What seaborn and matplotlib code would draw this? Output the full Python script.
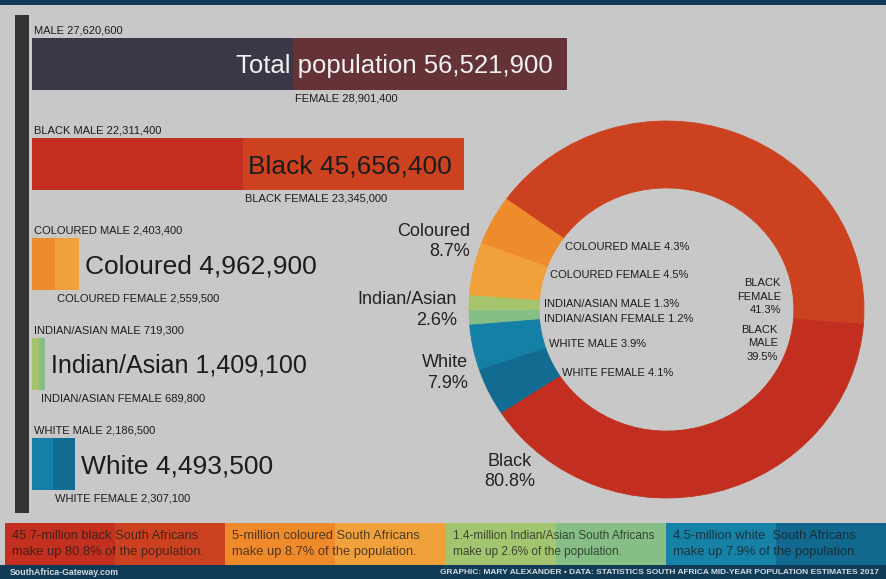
import matplotlib
matplotlib.use("Agg")
import matplotlib.pyplot as plt
from matplotlib.patches import Rectangle
import pandas as pd
import seaborn as sns

# ---- data -------------------------------------------------------------
groups = ["Total population", "Black", "Coloured", "Indian/Asian", "White"]
group_caps = ["", "BLACK ", "COLOURED ", "INDIAN/ASIAN ", "WHITE "]
totals = [56521900, 45656400, 4962900, 1409100, 4493500]
males = [27620600, 22311400, 2403400, 719300, 2186500]
females = [28901400, 23345000, 2559500, 689800, 2307100]

ring_labels = ["BLACK FEMALE", "COLOURED MALE", "COLOURED FEMALE",
               "INDIAN/ASIAN MALE", "INDIAN/ASIAN FEMALE",
               "WHITE MALE", "WHITE FEMALE", "BLACK MALE"]
ring_values = [23345000, 2403400, 2559500, 719300, 689800,
               2186500, 2307100, 22311400]

share_names = ["Black", "Coloured", "Indian/Asian", "White"]
share_pcts = ["80.8%", "8.7%", "2.6%", "7.9%"]

banner_lines = [
    ("45.7-million black South Africans", "make up 80.8% of the population."),
    ("5-million coloured South Africans", "make up 8.7% of the population."),
    ("1.4-million Indian/Asian South Africans", "make up 2.6% of the population."),
    ("4.5-million white  South Africans", "make up 7.9% of the population."),
]
site_note = "SouthAfrica-Gateway.com"
credit_note = ("GRAPHIC: MARY ALEXANDER \u2022 DATA: STATISTICS SOUTH AFRICA "
               "MID-YEAR POPULATION ESTIMATES 2017")

# ---- styles -----------------------------------------------------------
BG = "#c8c8c8"
NAVY = "#0f3b57"
INK = "#1c1c1c"
male_cols = ["#3a3846", "#c22e1f", "#ee8b2b", "#a6c46c", "#1580a6"]
female_cols = ["#653336", "#cc4120", "#f1a13a", "#86bf86", "#126c91"]
ring_cols = ["#cc4120", "#ee8b2b", "#f1a13a", "#a6c46c", "#86bf86",
             "#1580a6", "#126c91", "#c22e1f"]
banner_cols = [("#c3301f", "#cc4221"), ("#ef8a2b", "#f1a13b"),
               ("#a3c56f", "#86bf86"), ("#1782a7", "#11698f")]
banner_sizes = [9.3, 9.3, 8.5, 9.3]
big_sizes = [18.5, 19, 19, 18, 19]

sns.set_theme(style="white")
plt.rcParams["font.family"] = ["Liberation Sans", "DejaVu Sans"]

W, H = 886, 579
DPI = 100
fig = plt.figure(figsize=(W / DPI, H / DPI), dpi=DPI, facecolor=BG)


def frame(x0, y0, x1, y1):
    """Figure rectangle from pixel box (top-left origin)."""
    return [x0 / W, 1 - y1 / H, (x1 - x0) / W, (y1 - y0) / H]


# backdrop canvas in pixel units
bg = fig.add_axes([0, 0, 1, 1], zorder=0)
bg.set_xlim(0, W)
bg.set_ylim(H, 0)
bg.axis("off")
bg.add_patch(Rectangle((0, 0), W, 5, color=NAVY, lw=0))
bg.add_patch(Rectangle((15, 15), 14, 498, color="#333333", lw=0))

# ---- stacked population bars -----------------------------------------
df = pd.DataFrame({"group": groups, "total": totals, "male": males,
                   "female": females})
ax = fig.add_axes(frame(32, 14, 567, 514), zorder=1)
sns.barplot(data=df, x="total", y="group", hue="group", palette=female_cols,
            orient="h", width=0.52, saturation=1, errorbar=None,
            legend=False, linewidth=0, ax=ax)
sns.barplot(data=df, x="male", y="group", hue="group", palette=male_cols,
            orient="h", width=0.52, saturation=1, errorbar=None,
            legend=False, linewidth=0, ax=ax)
ax.set_xlim(0, totals[0])
ax.set_ylim(len(groups) - 0.5, -0.5)
ax.axis("off")

half = 0.26
px_per_pt = DPI / 72
for i, (cap, t, m, f) in enumerate(zip(group_caps, totals, males, females)):
    ax.annotate(f"{cap}MALE {m:,}", (0, i - half), xytext=(2, 7.5),
                textcoords="offset pixels", ha="left", va="center",
                fontsize=8, color=INK)
    ax.annotate(f"{cap}FEMALE {f:,}", (m, i + half), xytext=(2, -8.5),
                textcoords="offset pixels", ha="left", va="center",
                fontsize=8, color=INK)
    size = big_sizes[i]
    drop = -0.36 * size * px_per_pt
    text = f"{groups[i]} {t:,}"
    if i == 0:
        ax.annotate(text, (t, i), xytext=(-14, drop), textcoords="offset pixels",
                    ha="right", va="baseline", fontsize=size, color="#f2f2f2")
    elif i == 1:
        ax.annotate(text, (m, i), xytext=(5, drop), textcoords="offset pixels",
                    ha="left", va="baseline", fontsize=size, color=INK)
    else:
        ax.annotate(text, (t, i), xytext=(6, drop), textcoords="offset pixels",
                    ha="left", va="baseline", fontsize=size, color=INK)

# ---- donut ------------------------------------------------------------
axp = fig.add_axes(frame(469, 121, 864, 498), zorder=1)
wedges, _ = axp.pie(ring_values, colors=ring_cols, startangle=-4.5,
                    counterclock=True, radius=1,
                    wedgeprops=dict(width=0.355, linewidth=0.6))
for w in wedges:
    w.set_edgecolor(w.get_facecolor())
    w.set_clip_on(False)
axp.set_aspect("auto")
axp.set_xlim(-1, 1)
axp.set_ylim(-1, 1)
axp.axis("off")

population = totals[0]
ring_text = {lab: f"{lab} {v / population * 100:.1f}%"
             for lab, v in zip(ring_labels, ring_values)}

inner_spots = {
    "COLOURED MALE": (565, 247),
    "COLOURED FEMALE": (550, 275),
    "INDIAN/ASIAN MALE": (544, 304),
    "INDIAN/ASIAN FEMALE": (544, 318.5),
    "WHITE MALE": (549, 344),
    "WHITE FEMALE": (562, 373),
}
for lab, (x, y) in inner_spots.items():
    bg.text(x, y, ring_text[lab], ha="left", va="center", fontsize=8,
            color=INK, zorder=3)

for lab, (x, y) in {"BLACK FEMALE": (781, 296.5),
                    "BLACK MALE": (778, 343.5)}.items():
    v = ring_values[ring_labels.index(lab)]
    words = lab.split()
    bg.text(x, y, f"{words[0]}\n{words[1]}\n{v / population * 100:.1f}%",
            ha="right", va="center", multialignment="right", fontsize=8,
            linespacing=1.45, color=INK, zorder=3)

outer_spots = {"Coloured": (470, 241.5, "right"),
               "Indian/Asian": (457, 310, "right"),
               "White": (468, 373, "right"),
               "Black": (510, 471.5, "center")}
for name, pct in zip(share_names, share_pcts):
    x, y, ha = outer_spots[name]
    bg.text(x, y, f"{name}\n{pct}", ha=ha, va="center", multialignment=ha,
            fontsize=13, linespacing=1.3, color="#222222", zorder=3)

# ---- banner strip -----------------------------------------------------
edges = [5, 225, 446, 666, 886]
for k, ((l1, l2), (c1, c2)) in enumerate(zip(banner_lines, banner_cols)):
    x0, x1 = edges[k], edges[k + 1]
    mid = (x0 + x1) / 2
    bg.add_patch(Rectangle((x0, 523), mid - x0, 42, color=c1, lw=0))
    bg.add_patch(Rectangle((mid, 523), x1 - mid, 42, color=c2, lw=0))
    bg.text(x0 + 7, 544, f"{l1}\n{l2}", ha="left", va="center",
            fontsize=banner_sizes[k], linespacing=1.4, color="#1a1a1a",
            alpha=0.75)

bg.add_patch(Rectangle((0, 565), W, H - 565, color=NAVY, lw=0))
bg.text(10, 572.5, site_note, ha="left", va="center", fontsize=6.3,
        fontweight="bold", color="#d5dbe0")
bg.text(879, 572.5, credit_note, ha="right", va="center", fontsize=6.0,
        fontweight="bold", color="#d5dbe0")

fig.savefig("out.png", dpi=DPI, facecolor=BG)
